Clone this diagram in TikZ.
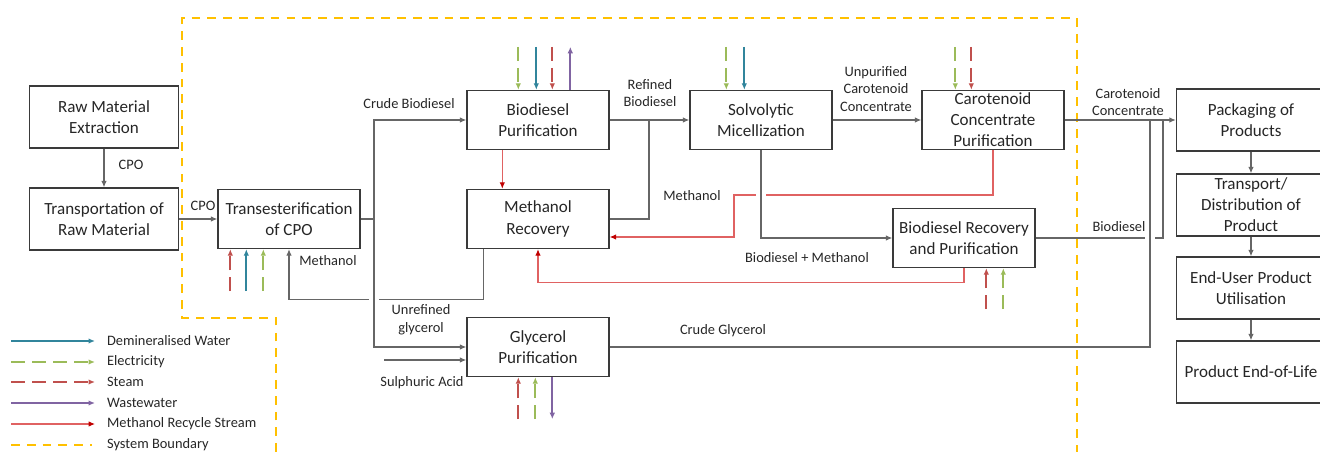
\documentclass[tikz,border=0pt]{standalone}
\usepackage{fontspec}
\setmainfont{Carlito}
\usetikzlibrary{positioning,arrows.meta,calc}
\definecolor{lcawater}{HTML}{31859C}
\definecolor{lcaelec}{HTML}{9BBB59}
\definecolor{lcasteam}{HTML}{C0504D}
\definecolor{lcawaste}{HTML}{8064A2}
\definecolor{lcarecy}{HTML}{E06262}
\definecolor{lcarecytip}{HTML}{C00000}
\definecolor{lcabound}{HTML}{FFC000}
\definecolor{lcaline}{HTML}{666666}
\definecolor{lcaedge}{HTML}{3A3A3A}
\definecolor{lcaink}{HTML}{262626}

\begin{document}
\begin{tikzpicture}[
  x=0.02cm, y=-0.02cm,
  >={Latex[length=1.3mm,width=1.1mm]},
  proc/.style={
    draw=lcaedge, line width=0.8pt, fill=white, align=center, text=lcaink,
    minimum width=2.84cm, minimum height=1.18cm, inner sep=1pt,
    font=\fontsize{9.7}{12}\selectfont
  },
  procwide/.style={proc, minimum width=2.98cm, minimum height=1.24cm},
  lbl/.style={font=\fontsize{8.2}{10}\selectfont, align=center, text=lcaink, inner sep=1pt},
  flow/.style={->, lcaline, line width=0.6pt},
  link/.style={lcaline, line width=0.6pt},
  recyc/.style={-{Latex[length=1.3mm,width=1.1mm,color=lcarecytip]}, lcarecy, line width=0.6pt},
  water/.style={->, lcawater, line width=1pt},
  elec/.style={->, lcaelec, line width=1pt, dash pattern=on 8pt off 4pt},
  steam/.style={->, lcasteam, line width=1pt, dash pattern=on 8pt off 4pt},
  waste/.style={->, lcawaste, line width=1pt},
  boundary/.style={lcabound, line width=1.1pt, dash pattern=on 5pt off 4pt},
]
\useasboundingbox (0,0) rectangle (1320,452);

% ---------------- system boundary
\draw[boundary] (276,452) -- (276,318) -- (182,318) -- (182,18) -- (1077,18) -- (1077,452);

% ---------------- process boxes
\node[procwide] (rme) at (104,117) {Raw Material\\Extraction};
\node[procwide] (trm) at (104,219) {Transportation of\\Raw Material};
\node[proc] (trans) at (289,219) {Transesterification\\of CPO};
\node[proc] (bpur) at (538,120) {Biodiesel\\Purification};
\node[proc] (mrec) at (538,219) {Methanol\\Recovery};
\node[proc] (solv) at (761,120) {Solvolytic\\Micellization};
\node[proc] (caro) at (993,120) {Carotenoid\\Concentrate\\Purification};
\node[proc] (brec) at (964,238) {Biodiesel Recovery\\and Purification};
\node[proc] (gpur) at (538,347) {Glycerol\\Purification};
\node[procwide] (pack) at (1251,120) {Packaging of\\Products};
\node[procwide] (dist) at (1251,205) {Transport/\\Distribution of\\Product};
\node[procwide] (user) at (1251,288) {End-User Product\\Utilisation};
\node[procwide] (eol) at (1251,372) {Product End-of-Life};

% ---------------- main flows
\draw[flow] (rme) -- (trm);
\node[lbl] (lcpoa) at (131,165) {CPO};
\draw[flow] (trm) -- (trans);
\node[lbl] (lcpob) at (203,206) {CPO};

\coordinate (jtr) at (374,219);
\draw[link] (trans.east) -- (jtr);
\draw[flow] (jtr) |- (bpur.west);
\node[lbl] (lcrude) at (409,104) {Crude Biodiesel};
\draw[flow] (jtr) |- (gpur.west);
\node[lbl] (lunref) at (421,320) {Unrefined\\glycerol};
\coordinate (acid) at (384,360);
\draw[flow] (acid) -- (acid -| gpur.west);
\node[lbl] (lacid) at (422,383) {Sulphuric Acid};

\draw[flow] ($(mrec.south west)+(17,0)$) -- ++(0,50) -| (trans.south);
\node[lbl] (lmetha) at (328,261) {Methanol};

\draw[flow] (bpur) -- (solv);
\node[lbl] (lrefined) at (650,93) {Refined\\Biodiesel};
\coordinate (jref) at (649,120);
\draw[link] (mrec.east) -| (jref);

\draw[flow] (solv) -- (caro);
\node[lbl] (lunpur) at (876,89) {Unpurified\\Carotenoid\\Concentrate};
\node[lbl] (lbdmeth) at (807,258) {Biodiesel + Methanol};

\draw[flow] (caro.east) -- (pack.west);
\node[lbl] (lcaro) at (1128,102) {Carotenoid\\Concentrate};
\coordinate (jbd) at (1163,120);
\draw[link] (brec.east) -| (jbd);
\node[lbl] (lbd) at (1119,227) {Biodiesel};
\coordinate (jgly) at (1150,120);
\node[lbl] (lgly) at (723,331) {Crude Glycerol};

\draw[flow] (pack) -- (dist);
\draw[flow] (dist) -- (user);
\draw[flow] (user) -- (eol);

% ---------------- methanol recycle
\draw[recyc] ($(bpur.south west)+(36,0)$) -- ($(mrec.north west)+(36,0)$);
\coordinate (rturn) at (734,195);
\draw[recyc] (caro.south) |- (rturn) |- ($(mrec.east)+(0,18)$);
\node[lbl] (lmethb) at (692,196) {Methanol};
\draw[recyc] (brec.south) -- ++(0,14) -| (mrec.south);

% ---------------- line crossings (horizontal one broken)
\foreach \cx/\cy in {374/298, 761/195, 1150/238}
  \fill[white] (\cx-5,\cy-3) rectangle (\cx+5,\cy+3);
\draw[flow] (solv.south) |- (brec.west);
\draw[link] (gpur.east) -| (jgly);
\draw[link] (374,290) -- (374,306);

% ---------------- utilities
\foreach \dx/\sty in {52/elec, 70/water, 86/steam}
  \draw[\sty] ($(bpur.north west)+(\dx,-43)$) -- ++(0,43);
\draw[waste] ($(bpur.north west)+(104,0)$) -- ++(0,-43);
\foreach \dx/\sty in {37/elec, 55/water}
  \draw[\sty] ($(solv.north west)+(\dx,-43)$) -- ++(0,43);
\foreach \dx/\sty in {34/elec, 50/steam}
  \draw[\sty] ($(caro.north west)+(\dx,-43)$) -- ++(0,43);
\foreach \dx/\sty in {13/steam, 29/water, 46/elec}
  \draw[\sty] ($(trans.south west)+(\dx,42)$) -- ++(0,-42);
\foreach \dx/\sty in {94/steam, 111/elec}
  \draw[\sty] ($(brec.south west)+(\dx,41)$) -- ++(0,-41);
\foreach \dx/\sty in {52/steam, 69/elec}
  \draw[\sty] ($(gpur.south west)+(\dx,42)$) -- ++(0,-42);
\draw[waste] ($(gpur.south west)+(86,0)$) -- ++(0,42);

% ---------------- legend
\foreach \y/\sty/\txt [count=\k] in {341/water/Demineralised Water, 362/elec/Electricity,
    382/steam/Steam, 403/waste/Wastewater, 424/recyc/Methanol Recycle Stream} {
  \coordinate (keya\k) at (11,\y);
  \coordinate (keyb\k) at (95,\y);
  \draw[\sty] (keya\k) -- (keyb\k);
  \node[lbl, anchor=west] (key\k) at (105,\y) {\txt};
}
\coordinate (keya6) at (11,445);
\coordinate (keyb6) at (92,445);
\draw[boundary] (keya6) -- (keyb6);
\node[lbl, anchor=west] (key6) at (105,445) {System Boundary};

\end{tikzpicture}
\end{document}
